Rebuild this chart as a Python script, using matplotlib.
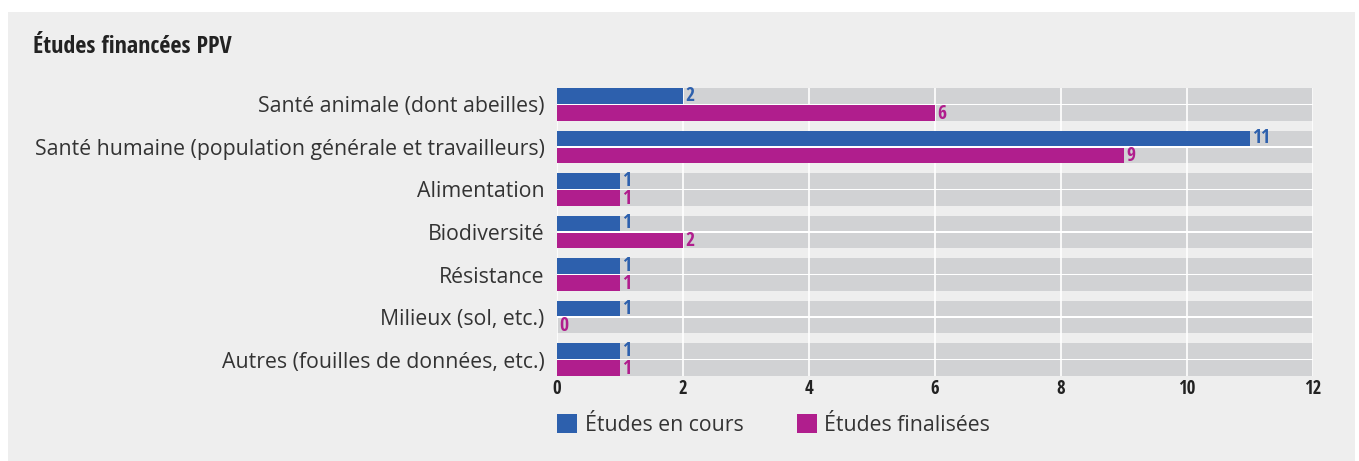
import matplotlib
matplotlib.use("Agg")
import matplotlib.pyplot as plt
from matplotlib.patches import Rectangle, Patch
import numpy as np

# data
categories = [
    "Santé animale (dont abeilles)",
    "Santé humaine (population générale et travailleurs)",
    "Alimentation",
    "Biodiversité",
    "Résistance",
    "Milieux (sol, etc.)",
    "Autres (fouilles de données, etc.)",
]
en_cours = [2, 11, 1, 1, 1, 1, 1]
finalisees = [6, 9, 1, 2, 1, 0, 1]
series_names = ["Études en cours", "Études finalisées"]
xticks = [0, 2, 4, 6, 8, 10, 12]

BLUE = "#2d60ad"
MAGENTA = "#b01e8d"
BAND = "#d1d2d4"
BG = "#eeeeee"
NARROW = ["Open Sans Condensed", "DejaVu Sans"]
REG = ["Open Sans", "DejaVu Sans"]

W, H = 1359, 461
fig = plt.figure(figsize=(W / 100, H / 100), dpi=100)
fig.patch.set_facecolor("white")
fig.patches.append(Rectangle((8 / W, 0), (W - 12) / W, 1 - 12 / H,
                             transform=fig.transFigure, facecolor=BG,
                             edgecolor="none", zorder=-10))

left, right, top, bottom = 557, 1313, 88, 376
ax = fig.add_axes([left / W, 1 - bottom / H, (right - left) / W, (bottom - top) / H])
ax.set_facecolor(BG)

y = np.arange(len(categories))
half = 0.388
bh = 0.376
xmax = 12

# white backing (white line between the two bars) + gray bands
ax.barh(y, xmax, height=2 * half, color="white", zorder=1)
ax.barh(y - 0.2, xmax, height=bh, color=BAND, zorder=1.5)
ax.barh(y + 0.2, xmax, height=bh, color=BAND, zorder=1.5)
for xv in xticks:
    ax.axvline(xv, color="white", lw=1.2, zorder=2)

ax.barh(y - 0.2, en_cours, height=bh, color=BLUE, zorder=3)
ax.barh(y + 0.2, finalisees, height=bh, color=MAGENTA, zorder=3)

for yi, v in zip(y, en_cours):
    ax.text(v + 0.03, yi - 0.2, str(v), color=BLUE, fontsize=14,
            fontweight="bold", family=NARROW, va="center", ha="left", zorder=4)
for yi, v in zip(y, finalisees):
    ax.text(v + 0.03, yi + 0.22, str(v), color=MAGENTA, fontsize=14,
            fontweight="bold", family=NARROW, va="center", ha="left", zorder=4)

ax.set_xlim(0, xmax)
ax.set_ylim(len(categories) - 1 + half, -half)
ax.set_xticks(xticks)
ax.set_xticklabels([str(t) for t in xticks], fontsize=13.5, fontweight="bold",
                   family=NARROW, color="#222222")
ax.set_yticks(y)
ax.set_yticklabels(categories, fontsize=15.3, family=REG, color="#333333")
ax.tick_params(axis="both", length=0)
ax.tick_params(axis="y", pad=9)
ax.tick_params(axis="x", pad=2)
for s in ax.spines.values():
    s.set_visible(False)

fig.text(33 / W, 1 - 47 / H, "Études financées PPV", fontsize=17.4,
         fontweight="bold", family=NARROW, color="#222222", va="center")

handles = [Patch(facecolor=BLUE), Patch(facecolor=MAGENTA)]
ax.legend(handles, series_names, loc="upper left", bbox_to_anchor=(0, -0.133),
          ncol=2, frameon=False, borderpad=0, borderaxespad=0,
          prop={"family": REG, "size": 15.3}, handlelength=0.95,
          handleheight=1.0, handletextpad=0.35, columnspacing=2.5,
          labelcolor="#333333")

fig.savefig("out.png", dpi=100, facecolor=fig.get_facecolor())
